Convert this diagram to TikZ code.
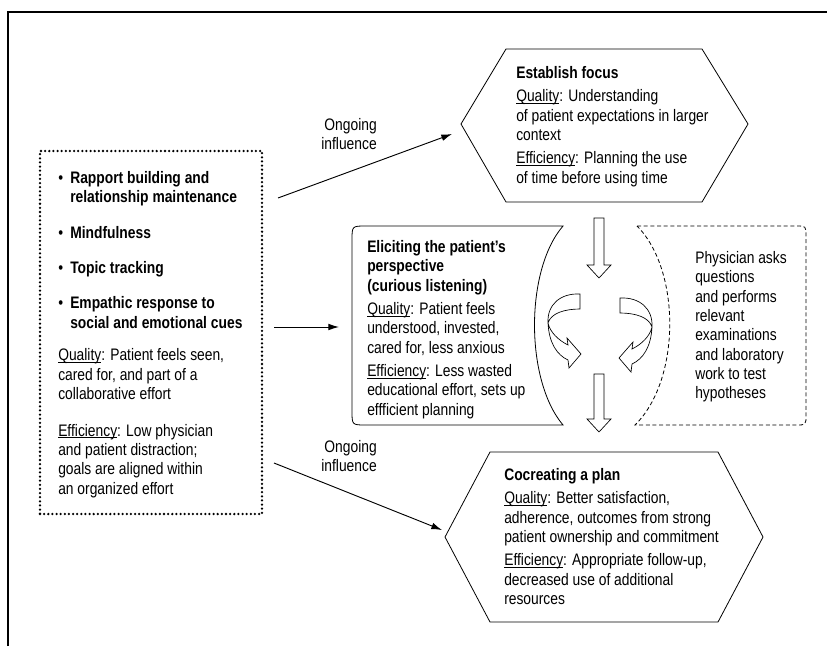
\documentclass[tikz,border=0pt]{standalone}
\usepackage{fontspec}
\setmainfont{Liberation Sans}[FakeStretch=0.83]
\usetikzlibrary{positioning}
\usetikzlibrary{arrows.meta}
\tikzset{
	every node/.style = {font=\fontsize{12.5}{14.5}\selectfont, inner sep=0pt},
	txt/.style = {anchor=north west, align=left},
	hexa/.style = {draw, line width=0.6pt},
	dotbox/.style = {draw, line width=1.9pt, line cap=round, dash pattern=on 0pt off 3.1pt},
	dashbox/.style = {draw, line width=0.6pt, dash pattern=on 3pt off 2pt},
	hollow/.style = {draw, line width=0.5pt, fill=white},
	influence/.style = {-{Latex[length=8pt,width=5pt]}, line width=0.7pt}
}
\newcommand{\ulword}[1]{\setbox0\hbox{#1}\rlap{\rule[-1.4pt]{\wd0}{0.45pt}}\box0}
\newcommand{\qual}{\ulword{Quality}: }
\newcommand{\effi}{\ulword{Efficiency}: }

\begin{document}
\begin{tikzpicture}[x=0.75pt, y=-0.75pt]
		\useasboundingbox (0,0) rectangle (827,646);
		% frame
		\draw[line width=1.1pt] (8,646) -- (8,12) -- (827,12);
		
		% skills box
		\node[dotbox, minimum width=166.5pt, minimum height=272.25pt] (skills) at (151,332.5) {};
		\node[txt] (skilltext) at (58,171) {\makebox[9pt][l]{\textbullet}\textbf{Rapport building and}\\
			\hspace*{9pt}\textbf{relationship maintenance}\\[12pt]
			\makebox[9pt][l]{\textbullet}\textbf{Mindfulness}\\[12pt]
			\makebox[9pt][l]{\textbullet}\textbf{Topic tracking}\\[12pt]
			\makebox[9pt][l]{\textbullet}\textbf{Empathic response to}\\
			\hspace*{9pt}\textbf{social and emotional cues}\\[10pt]
			\qual Patient feels seen,\\ cared for, and part of a\\ collaborative effort\\[13pt]
			\effi Low physician\\ and patient distraction;\\ goals are aligned within\\ an organized effort};
		
		% establish focus
		\draw[hexa] (461,124) -- (506,49) -- (702,49) -- (748,124) -- (702,202) -- (506,202) -- cycle;
		\node[txt] (focus) at (516,66) {\textbf{Establish focus}\\[3pt]
			\qual Understanding\\ of patient expectations in larger\\ context\\[3pt]
			\effi Planning the use\\ of time before using time};
		
		% eliciting the perspective
		\draw[line width=0.6pt] (563,226) -- (366,226) .. controls (352,226) .. (352,240) -- (352,411)
			.. controls (352,425) .. (366,425) -- (563,425) .. controls (525,380) and (525,270) .. (563,226) -- cycle;
		\node[txt] (listening) at (367,240) {\textbf{Eliciting the patient’s}\\ \textbf{perspective}\\ \textbf{(curious listening)}\\[3pt]
			\qual Patient feels\\ understood, invested,\\ cared for, less anxious\\[3pt]
			\effi Less wasted\\ educational effort, sets up\\ effficient planning};
		
		% physician
		\draw[dashbox] (637,226) -- (796,226) .. controls (806,226) .. (806,236) -- (806,415)
			.. controls (806,425) .. (796,425) -- (635,425) .. controls (681,380) and (681,270) .. (637,226);
		\node[txt] (exam) at (695,251) {Physician asks\\ questions\\ and performs\\ relevant\\ examinations\\ and laboratory\\ work to test\\ hypotheses};
		
		% block arrows
		\foreach \ya/\yb in {218/265, 374/419}
			\draw[hollow] (594,\ya) -- (604,\ya) -- (604,\yb) -- (611,\yb) -- (599,\yb+13) -- (587,\yb) -- (594,\yb) -- cycle;
		\foreach \s/\dx/\dy in {1/0/0, -1/1200/4}
			\draw[hollow, shift={(\dx,\dy)}, xscale=\s] (580,294) .. controls (560,293) and (547,305) .. (548,323)
				.. controls (549,343) and (557,355) .. (568,360) -- (569,368) -- (581,354) -- (567,338) -- (568,345)
				.. controls (558,340) and (550,332) .. (548,323) .. controls (551,313) and (565,309) .. (580,309) -- cycle;
		
		% cocreating a plan
		\draw[hexa] (445,537) -- (490,452) -- (718,452) -- (763,537) -- (718,622) -- (490,622) -- cycle;
		\node[txt] (plan) at (504,468) {\textbf{Cocreating a plan}\\[3pt]
			\qual Better satisfaction,\\ adherence, outcomes from strong\\ patient ownership and commitment\\[3pt]
			\effi Appropriate follow-up,\\ decreased use of additional\\ resources};
		
		% influence arrows
		\coordinate (out-focus) at (278,198);
		\coordinate (in-focus) at (452,134);
		\coordinate (out-listen) at (274,327);
		\coordinate (in-listen) at (339,327);
		\coordinate (out-plan) at (274,463);
		\coordinate (in-plan) at (442,530);
		\draw[influence] (out-focus) -- (in-focus);
		\draw[influence] (out-listen) -- (in-listen);
		\draw[influence] (out-plan) -- (in-plan);
		\node[anchor=north east, align=right] (ongoing-top) at (377,118) {Ongoing\\ influence};
		\node[anchor=north east, align=right] (ongoing-bottom) at (377,440) {Ongoing\\ influence};
	\end{tikzpicture}
\end{document}
